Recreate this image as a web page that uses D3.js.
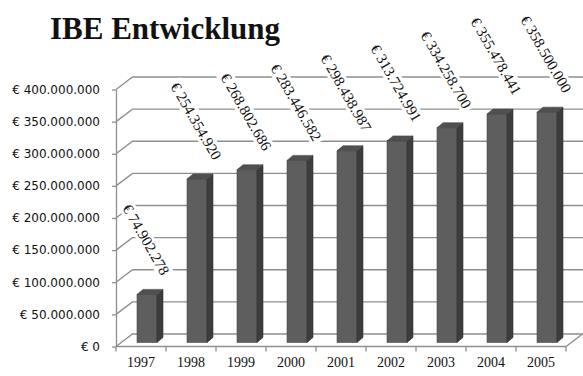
<!DOCTYPE html>
<html>
<head>
<meta charset="utf-8">
<script src="https://cdn.jsdelivr.net/npm/d3@7"></script>
<style>
  html, body { margin: 0; padding: 0; background: #fff; }
  svg { display: block; }
</style>
</head>
<body>
<svg id="chart" width="583" height="376"></svg>
<script>
// Yearly IBE figures (in euro)
const years = ["1997", "1998", "1999", "2000", "2001", "2002", "2003", "2004", "2005"];
const values = [74902278, 254354920, 268802686, 283446582, 298438987, 313724991, 334258700, 355478441, 358500000];
const yTicks = [0, 50000000, 100000000, 150000000, 200000000, 250000000, 300000000, 350000000, 400000000];
const title = "IBE Entwicklung";

const W = 583, H = 376;
const svg = d3.select("#chart");

// German number formatting: € 1.234.567
const de = d3.formatLocale({ decimal: ",", thousands: ".", grouping: [3], currency: ["€ ", ""] });
const fmt = de.format("$,.0f");

// Plot frame: front edge of the floor and the depth offset of the back wall
const left = 116, right = 566;
const depthX = 16.5, depthY = -12.5;

const x = d3.scaleBand().domain(years).range([left, right]).paddingInner(0.6).paddingOuter(0.3);
const xEdge = d3.scaleBand().domain(years).range([left, right]).padding(0);
const y = d3.scaleLinear().domain([0, 400000000]).range([346.5, 89.5]);

const gridColor = "#8e8e8e";

// Back wall gridlines with the diagonal of the left side wall
const grid = svg.append("g").attr("fill", "none").attr("stroke", gridColor).attr("stroke-width", 1.3);
grid.selectAll("path").data(yTicks).join("path")
  .attr("d", v => {
    const p = d3.path();
    p.moveTo(left, y(v));
    p.lineTo(left + depthX, y(v) + depthY);
    p.lineTo(right + depthX + 20, y(v) + depthY);
    return p.toString();
  });

// Floor: front edge plus right diagonal
const floor = d3.path();
floor.moveTo(left, y(0));
floor.lineTo(right, y(0));
floor.lineTo(right + depthX, y(0) + depthY);
svg.append("path").attr("d", floor.toString())
  .attr("fill", "none").attr("stroke", gridColor).attr("stroke-width", 1.3);

// Y axis
const yAxis = svg.append("g")
  .attr("transform", `translate(${left},0)`)
  .call(d3.axisLeft(y).tickValues(yTicks).tickFormat(v => fmt(v)).tickSize(4).tickSizeOuter(0).tickPadding(12));
yAxis.select(".domain").attr("stroke", gridColor).attr("stroke-width", 1.3);
yAxis.selectAll(".tick line").attr("stroke", gridColor).attr("stroke-width", 1.3);
yAxis.selectAll(".tick text")
  .attr("fill", "#111")
  .style("font-family", "'DejaVu Sans', sans-serif")
  .style("font-size", "12px");

// X axis: category labels centered in each band, ticks at band edges
const xAxis = svg.append("g")
  .attr("transform", `translate(0,${y(0)})`)
  .call(d3.axisBottom(xEdge).tickSize(0).tickPadding(11));
xAxis.select(".domain").remove();
xAxis.selectAll(".tick text")
  .attr("fill", "#111")
  .style("font-family", "'Liberation Serif', serif")
  .style("font-size", "14px");

const edges = years.map(d => xEdge(d)).concat([right]);
svg.append("g").selectAll("line").data(edges).join("line")
  .attr("x1", d => d).attr("x2", d => d)
  .attr("y1", y(0)).attr("y2", y(0) + 5)
  .attr("stroke", gridColor).attr("stroke-width", 1.3);

// 3D bars: offset into the depth, with front, side and top faces
const shiftX = 6, shiftY = -4;
const bx = 6, by = -5;
const bw = x.bandwidth();
const bars = svg.append("g").selectAll("g").data(years.map((d, i) => ({ year: d, value: values[i] }))).join("g");

bars.append("rect")
  .attr("x", d => x(d.year) + shiftX)
  .attr("y", d => y(d.value) + shiftY)
  .attr("width", bw)
  .attr("height", d => y(0) - y(d.value))
  .attr("fill", "#5e5e5e")
  .attr("stroke", "#4a4a4a").attr("stroke-width", 0.6);

bars.append("path")
  .attr("d", d => {
    const x0 = x(d.year) + shiftX + bw, yt = y(d.value) + shiftY, yb = y(0) + shiftY;
    return `M${x0},${yt}L${x0 + bx},${yt + by}L${x0 + bx},${yb + by}L${x0},${yb}Z`;
  })
  .attr("fill", "#3d3d3d")
  .attr("stroke", "#333").attr("stroke-width", 0.6);

bars.append("path")
  .attr("d", d => {
    const x0 = x(d.year) + shiftX, yt = y(d.value) + shiftY;
    return `M${x0},${yt}L${x0 + bx},${yt + by}L${x0 + bw + bx},${yt + by}L${x0 + bw},${yt}Z`;
  })
  .attr("fill", "#505050")
  .attr("stroke", "#444").attr("stroke-width", 0.6);

// Rotated value labels on white boxes above each bar
const angle = 60, rad = angle * Math.PI / 180;
const labelSize = 15;
const labels = svg.append("g").selectAll("g").data(years.map((d, i) => ({ year: d, value: values[i] }))).join("g");
labels.each(function (d) {
  const g = d3.select(this);
  const t = g.append("text")
    .attr("text-anchor", "middle")
    .attr("dominant-baseline", "central")
    .attr("fill", "#111")
    .style("font-family", "'Liberation Serif', serif")
    .style("font-size", labelSize + "px")
    .text(fmt(d.value));
  const L = t.node().getComputedTextLength();
  const h = labelSize * 0.95;
  const halfV = (L * Math.sin(rad) + h * Math.cos(rad)) / 2;
  const cx = x(d.year) + shiftX + bw / 2 - 1;
  const topY = y(d.value) + shiftY + by;
  const cy = topY - 12 - halfV;
  g.attr("transform", `translate(${cx},${cy}) rotate(${angle})`);
  g.insert("rect", "text")
    .attr("x", -L / 2 - 3).attr("y", -h / 2 - 1)
    .attr("width", L + 6).attr("height", h + 2)
    .attr("fill", "#fff");
});

// Title
svg.append("text")
  .attr("x", 50).attr("y", 39)
  .attr("fill", "#111")
  .style("font-family", "'Liberation Serif', serif")
  .style("font-weight", "bold")
  .style("font-size", "31px")
  .text(title);
</script>
</body>
</html>
